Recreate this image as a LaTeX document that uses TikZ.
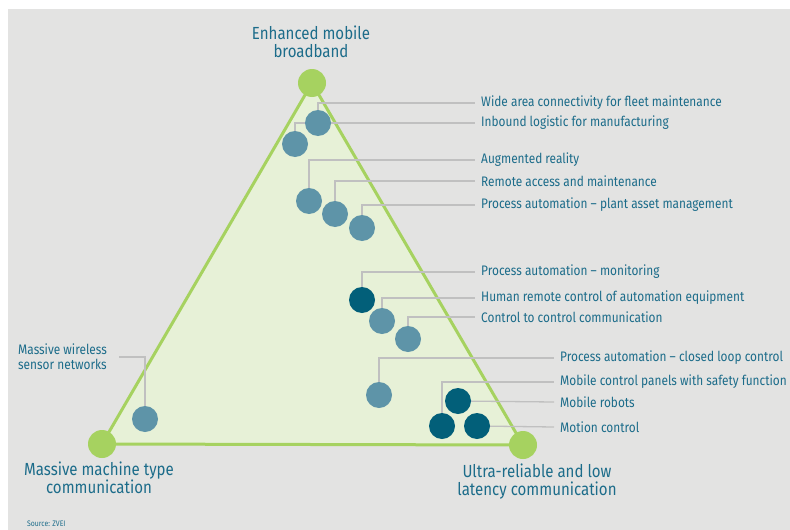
\documentclass[tikz,border=0pt]{standalone}
\usepackage{fontspec}
\setmainfont[FakeStretch=0.86]{Fira Sans}
\usetikzlibrary{positioning}

\definecolor{zbg}{RGB}{227,227,226}
\definecolor{zgreen}{RGB}{166,210,96}
\definecolor{zfill}{RGB}{231,241,215}
\definecolor{zlight}{RGB}{94,148,168}
\definecolor{zdark}{RGB}{2,95,121}
\definecolor{ztext}{RGB}{28,108,138}
\definecolor{zline}{RGB}{192,192,192}

\pgfdeclarelayer{back}
\pgfdeclarelayer{lines}
\pgfsetlayers{back,lines,main}

\begin{document}
\begin{tikzpicture}[x=1pt,y=-1pt,
  dot/.style={circle,fill=#1,minimum size=26pt,inner sep=0pt},
  corner/.style={circle,fill=zgreen,minimum size=28pt,inner sep=0pt},
  lbl/.style={anchor=west,text=ztext,font=\fontsize{13.8}{15}\selectfont,inner xsep=6pt,inner ysep=0pt},
  leader/.style={draw=zline,line width=1.3pt},
  title/.style={text=ztext,font=\fontsize{17.5}{18}\selectfont,align=center}]
  \useasboundingbox (0,0) rectangle (790,530);

  % Ecken
  \node[corner] (embb) at (312,83) {};
  \node[corner] (mmtc) at (102,444) {};
  \node[corner] (urllc) at (523,445) {};
  \node[title] (t-embb) at (311,42) {Enhanced mobile\\broadband};
  \node[title] (t-mmtc) at (99,478) {Massive machine type\\communication};
  \node[title] (t-urllc) at (537,482) {Ultra-reliable and low\\latency communication};

  \begin{pgfonlayer}{back}
    \fill[zbg] (8,9) rectangle (790,530);
    \draw[zgreen,fill=zfill,line width=3pt,line join=round] (embb.center) -- (mmtc.center) -- (urllc.center) -- cycle;
  \end{pgfonlayer}

  % Anwendungen
  \node[dot=zlight] (wam) at (318,123) {};
  \node[dot=zlight] (ilm) at (295,144) {};
  \node[dot=zlight] (ar) at (309,201) {};
  \node[dot=zlight] (ram) at (335,214) {};
  \node[dot=zlight] (pam) at (362,228) {};
  \node[dot=zdark] (pm) at (362,300) {};
  \node[dot=zlight] (hrc) at (382,321) {};
  \node[dot=zlight] (ctc) at (408,339) {};
  \node[dot=zlight] (clc) at (379,395) {};
  \node[dot=zdark] (mr) at (458,401) {};
  \node[dot=zdark] (mcp) at (442,426) {};
  \node[dot=zdark] (mc) at (477,426) {};
  \node[dot=zlight] (mws) at (145,419) {};

  \node[lbl] (l-wam) at (475,103) {Wide area connectivity for fleet maintenance};
  \node[lbl] (l-ilm) at (475,123) {Inbound logistic for manufacturing};
  \node[lbl] (l-ar) at (475,160) {Augmented reality};
  \node[lbl] (l-ram) at (475,181) {Remote access and maintenance};
  \node[lbl] (l-pam) at (475,205) {Process automation -- plant asset management};
  \node[lbl] (l-pm) at (475,272) {Process automation -- monitoring};
  \node[lbl] (l-hrc) at (475,298) {Human remote control of automation equipment};
  \node[lbl] (l-ctc) at (475,317) {Control to control communication};
  \node[lbl] (l-clc) at (554,358) {Process automation -- closed loop control};
  \node[lbl] (l-mcp) at (554,382) {Mobile control panels with safety function};
  \node[lbl] (l-mr) at (554,402) {Mobile robots};
  \node[lbl] (l-mc) at (554,427) {Motion control};
  \node[lbl,align=left,inner xsep=0pt] (l-mws) at (18,357) {Massive wireless\\sensor networks};

  \node[text=ztext,font=\fontsize{8}{9}\selectfont,anchor=west,inner sep=0pt] (src) at (27,524) {Source: ZVEI};

  % Hinweislinien
  \begin{pgfonlayer}{lines}
    \foreach \d in {wam,ilm,ar,ram,pam,pm,hrc,ctc,clc,mcp}
      \draw[leader] (\d.center) |- (l-\d.west);
    \draw[leader] (mr.center) -- (l-mr.west);
    \draw[leader] (mc.center) -- (l-mc.west);
    \draw[leader] (mws.center) |- ([xshift=12pt]l-mws.east);
  \end{pgfonlayer}
\end{tikzpicture}
\end{document}
